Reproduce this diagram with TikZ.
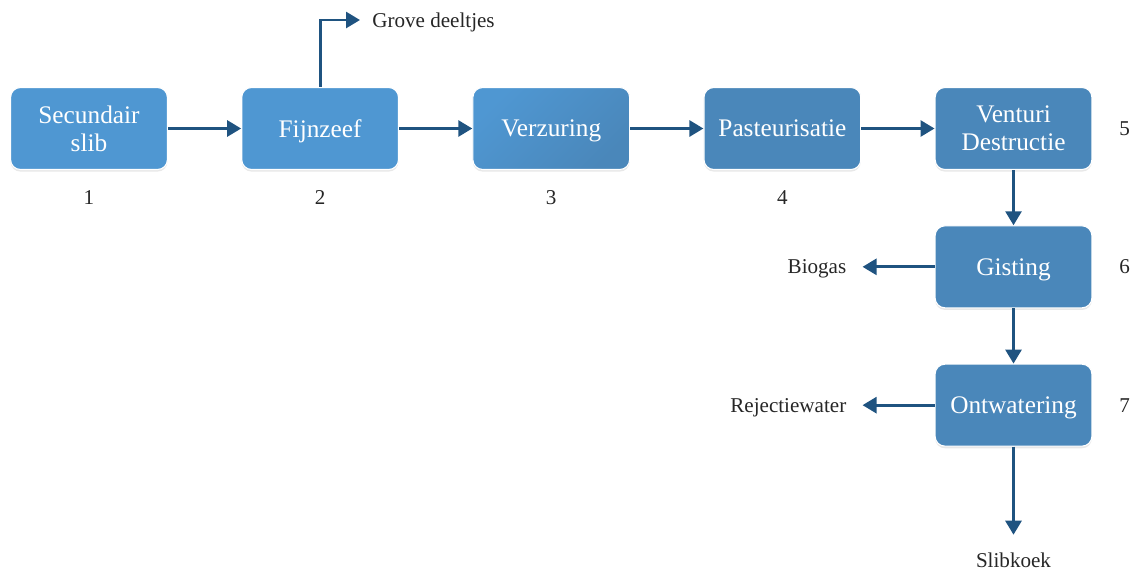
\documentclass[tikz,border=0pt]{standalone}
\usepackage{fontspec}
\setmainfont{Liberation Serif}
\usetikzlibrary{arrows.meta,positioning,shadows}
\definecolor{BoxLight}{HTML}{4F97D2}
\definecolor{BoxDark}{HTML}{4A87BA}
\definecolor{Flow}{HTML}{1F5380}
\definecolor{Ink}{HTML}{262626}

\begin{document}
\begin{tikzpicture}[
  node distance=1.83cm,
  proc/.style={rounded corners=7pt,draw=white,line width=0.8pt,fill=BoxDark,text=white,minimum width=3.92cm,minimum height=2.05cm,text depth=0pt,align=center,font=\fontsize{18}{20}\selectfont,drop shadow={shadow xshift=0pt,shadow yshift=-1.5pt,opacity=0.18}},
  product/.style={inner xsep=0.4cm,inner ysep=0.45cm,text depth=0pt,text=Ink,font=\fontsize{15}{18}\selectfont},
  num/.style={text=Ink,font=\fontsize{15}{18}\selectfont},
  arrow/.style={-{Triangle[length=0.35cm,width=0.4cm]},line width=2pt,draw=Flow}
]
\useasboundingbox (0,0) rectangle (28.375,-14.25);
% main line
\node[proc,fill=BoxLight] (sec) at (2.225,-3.2125) {Secundair\\slib};
\node[proc,fill=BoxLight,right=of sec] (fijn) {Fijnzeef};
\node[proc,top color=BoxLight,bottom color=BoxDark,shading angle=45,right=of fijn] (verz) {Verzuring};
\node[proc,right=of verz] (past) {Pasteurisatie};
\node[proc,right=of past] (vent) {Venturi\\Destructie};
\node[proc,below=1.38cm of vent] (gist) {Gisting};
\node[proc,below=1.38cm of gist] (ontw) {Ontwatering};
% step numbers
\node[num,below=0.4cm of sec] (n1) {1};
\node[num,below=0.4cm of fijn] (n2) {2};
\node[num,below=0.4cm of verz] (n3) {3};
\node[num,below=0.4cm of past] (n4) {4};
\node[num,right=0.55cm of vent] (n5) {5};
\node[num,right=0.55cm of gist] (n6) {6};
\node[num,right=0.55cm of ontw] (n7) {7};
% outputs
\node[product,inner xsep=0.3cm,anchor=west] (grove) at (9.0,-0.5) {Grove deeltjes};
\node[product,left=1.8cm of gist] (bio) {Biogas};
\node[product,left=1.8cm of ontw] (rej) {Rejectiewater};
\node[product,below=2.2cm of ontw] (koek) {Slibkoek};
\draw[arrow] (sec) -- (fijn);
\draw[arrow] (fijn) -- (verz);
\draw[arrow] (verz) -- (past);
\draw[arrow] (past) -- (vent);
\draw[arrow] (vent) -- (gist);
\draw[arrow] (gist) -- (ontw);
\draw[arrow] (fijn.north) |- (grove.west);
\draw[arrow] (gist) -- (bio);
\draw[arrow] (ontw) -- (rej);
\draw[arrow] (ontw) -- (koek);
\end{tikzpicture}
\end{document}
